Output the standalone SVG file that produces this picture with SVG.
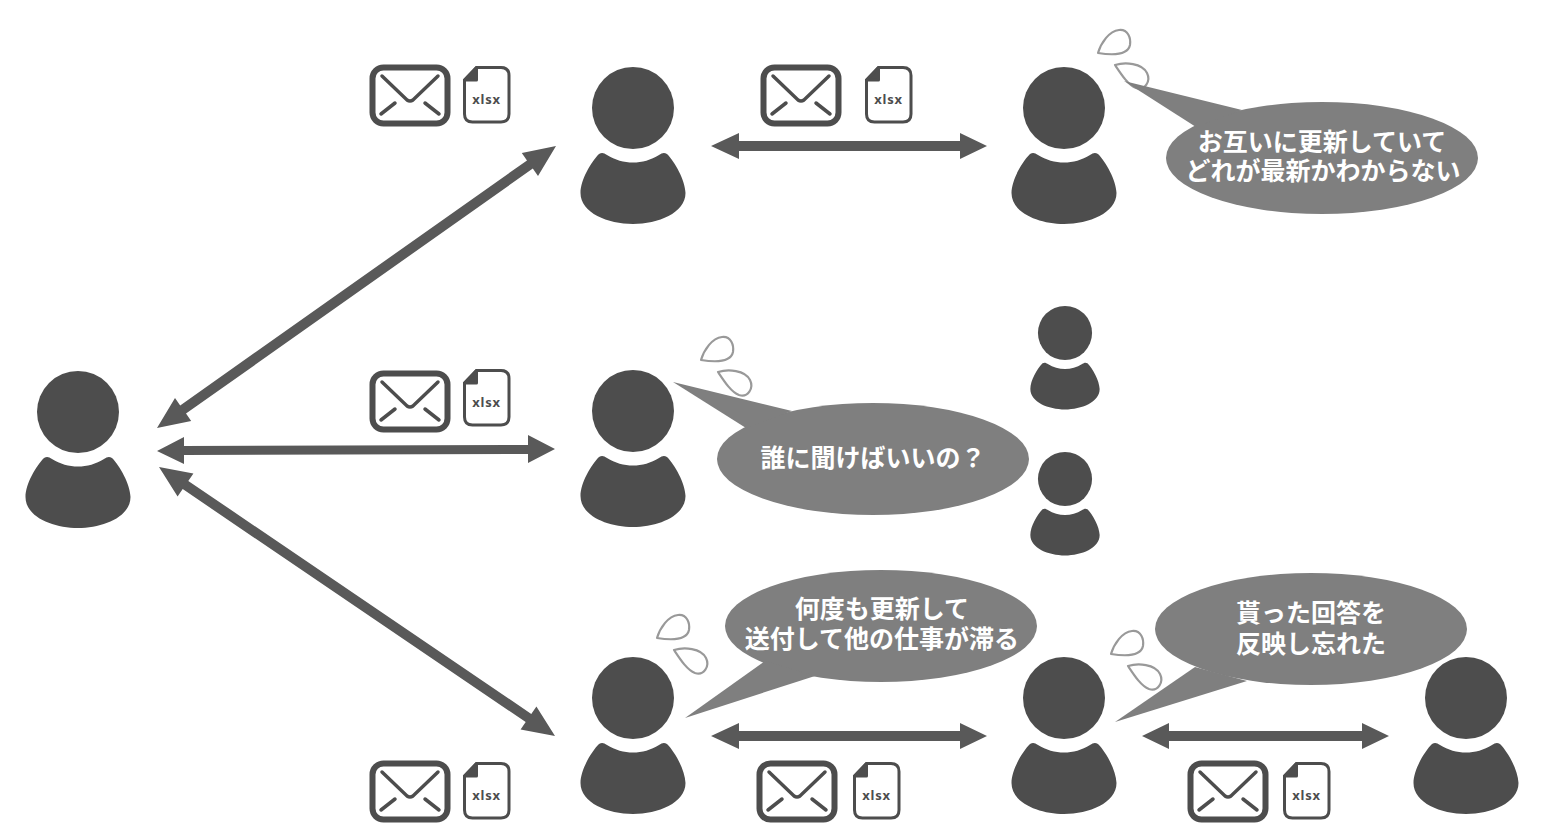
<svg xmlns="http://www.w3.org/2000/svg" width="1544" height="832" viewBox="0 0 1544 832">
<style>
.b{fill:#7f7f7f}
.t{font-family:"Noto Sans CJK JP","Noto Sans CJK SC",sans-serif;font-weight:700;font-size:25px;fill:#fff;text-anchor:middle}
.x{font-family:"Noto Sans","DejaVu Sans",sans-serif;font-weight:700;font-size:13px;fill:#4d4d4d;text-anchor:middle;letter-spacing:.8px}
.d{fill:#fff;stroke:#999;stroke-width:2.2;stroke-linejoin:round}
.a{fill:#595959}
</style>
<defs>
<g id="person" fill="#4d4d4d">
<circle cx="0" cy="0" r="41"/>
<path d="M-34 46C-31 44-29 45-26 47C-10 57 10 57 26 47C29 45 31 44 34 46C42 54 52 72 52.500 85C52.500 105 25 116 0 116C-25 116-52.500 105-52.500 85C-52.500 72-42 54-34 46Z"/>
</g>
<g id="mail" fill="none" stroke="#4d4d4d" stroke-linecap="round">
<rect x="2.500" y="2.500" width="75" height="56" rx="11" fill="#fff" stroke-width="6"/>
<path d="M12 11L37 35Q40 37 43 35L68 11M11 49L25 38M69 49L55 38" stroke-width="3.500"/>
</g>
<g id="file">
<path d="M13.500 1.500H38Q46 1.500 46 9.500V48Q46 56 38 56H9.500Q1.500 56 1.500 48V14Z" fill="#fff" stroke="#4d4d4d" stroke-width="3"/>
<path d="M13.500 1.500L1.500 14H13.500Z" fill="#4d4d4d" stroke="#4d4d4d" stroke-width="3" stroke-linejoin="round"/>
<text class="x" x="23.500" y="38">xlsx</text>
</g>
<g id="drops">
<path class="d" d="M0 24C3 14 11 2 21 1C30 0 33 9 32 16C30 25 19 27 0 24Z"/>
<path class="d" d="M17 36C27 33 44 34 49 44C53 52 47 62 38 59C30 56 23 45 17 36Z"/>
</g>
</defs>
<g id="connectors" class="a">
<polygon points="157,428 191.200,420.900 186,413.600 532.800,168.600 538,175.900 556,146 521.800,153.100 527,160.400 180.200,405.400 175,398.100"/>
<polygon points="157,451 184,437 184,446 528,445 528,435 555,449 528,463 528,454 184,455 184,464"/>
<polygon points="159,467 177.600,496.600 182.700,489.100 525.700,722.100 520.600,729.600 555,736 536.400,706.400 531.300,713.900 188.300,480.900 193.400,473.400"/>
<polygon points="711,146 739,133 739,141 960,141 960,133 987,146 960,159 960,151 739,151 739,159"/>
<polygon points="711,736 739,723 739,731 960,731 960,723 987,736 960,749 960,741 739,741 739,749"/>
<polygon points="1142,736 1169,723 1169,731 1362,731 1362,723 1389,736 1362,749 1362,741 1169,741 1169,749"/>
</g>
<use href="#drops" x="1098" y="29"/>
<use href="#drops" x="701" y="336"/>
<use href="#drops" x="657" y="614"/>
<use href="#drops" x="1111" y="630"/>
<g id="p1"><use href="#person" x="78" y="412"/></g>
<g id="p2"><use href="#person" x="633" y="108"/></g>
<g id="p3"><use href="#person" x="1064" y="108"/></g>
<g id="p4"><use href="#person" x="633" y="411"/></g>
<g id="p5"><use href="#person" x="633" y="698"/></g>
<g id="p6"><use href="#person" x="1064" y="698"/></g>
<g id="p7"><use href="#person" x="1466" y="698"/></g>
<g id="p8"><use href="#person" transform="translate(1065 333) scale(.66)"/></g>
<g id="p9"><use href="#person" transform="translate(1065 479) scale(.66)"/></g>
<g id="m1"><use href="#mail" x="370" y="65"/><use href="#file" x="463" y="66"/></g>
<g id="m2"><use href="#mail" x="761" y="65"/><use href="#file" x="865" y="66"/></g>
<g id="m3"><use href="#mail" x="370" y="371"/><use href="#file" x="463" y="369"/></g>
<g id="m4"><use href="#mail" x="370" y="761"/><use href="#file" x="463" y="762"/></g>
<g id="m5"><use href="#mail" x="757" y="761"/><use href="#file" x="853" y="762"/></g>
<g id="m6"><use href="#mail" x="1188" y="761"/><use href="#file" x="1283" y="762"/></g>
<g id="b1"><ellipse class="b" cx="1322" cy="158" rx="156" ry="56"/><polygon class="b" points="1124,81 1242,110 1196,127"/>
<text class="t" x="1322" y="151">お互いに更新していて</text><text class="t" x="1323" y="180">どれが最新かわからない</text></g>
<g id="b2"><ellipse class="b" cx="873" cy="459" rx="156" ry="56"/><polygon class="b" points="673,382 792,411 746,428"/>
<text class="t" x="873" y="467">誰に聞けばいいの？</text></g>
<g id="b3"><ellipse class="b" cx="881" cy="626" rx="156" ry="56"/><polygon class="b" points="685,718 765,661 815,676"/>
<text class="t" x="882" y="618">何度も更新して</text><text class="t" x="882" y="648">送付して他の仕事が滞る</text></g>
<g id="b4"><ellipse class="b" cx="1311" cy="629" rx="156" ry="56"/><polygon class="b" points="1115,722 1195,667 1247,681"/>
<text class="t" x="1311" y="622">貰った回答を</text><text class="t" x="1311" y="653">反映し忘れた</text></g>
</svg>
